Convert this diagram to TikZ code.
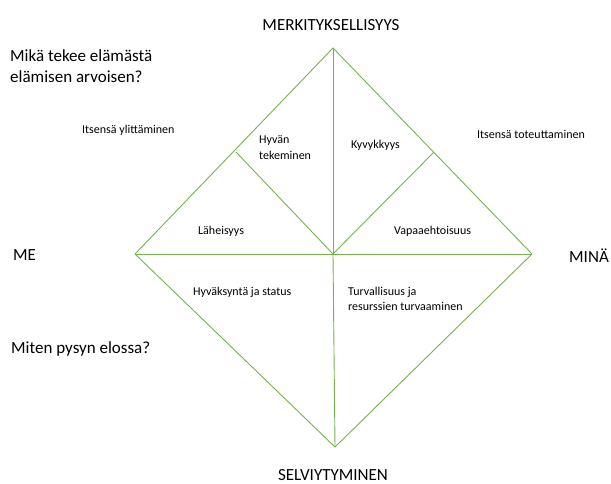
\documentclass[tikz,border=0pt]{standalone}
\usepackage{fontspec}
\setmainfont{Carlito}
\definecolor{lg}{RGB}{118,178,78}
\begin{document}
\begin{tikzpicture}[x=1pt,y=-1pt,
  edge/.style={draw=lg,line width=0.9pt},
  big/.style={font=\fontsize{17}{20}\selectfont,inner sep=0pt},
  small/.style={font=\fontsize{12}{15.5}\selectfont,inner sep=0pt,align=left}]
\useasboundingbox (0,0) rectangle (611,484);
\coordinate (T) at (333,48);
\coordinate (L) at (135,254);
\coordinate (R) at (532,254);
\coordinate (B) at (335,447);
\coordinate (C) at (333,254);
\coordinate (ML) at (236,152);
\coordinate (MR) at (434,152);
\draw[edge] (L) -- (T) -- (R);
\draw[edge] (L) -- (R);
\draw[edge] (T) -- (C);
\draw[edge] (ML) -- (C) -- (MR);
\draw[edge] (L) -- (B) -- (R);
\draw[edge] (C) -- (B);
\node[big,anchor=base] (top) at (331,31) {MERKITYKSELLISYYS};
\node[big,anchor=base] (bot) at (333,480) {SELVIYTYMINEN};
\node[big,anchor=base west] (me) at (13,260) {ME};
\node[big,anchor=base west] (mina) at (569,262) {MINÄ};
\node[big,anchor=base west] (q1a) at (10,62) {Mikä tekee elämästä};
\node[big,anchor=base west] (q1b) at (10,83) {elämisen arvoisen?};
\node[big,anchor=base west] (q2) at (11,353) {Miten pysyn elossa?};
\node[small,anchor=base west] (ys) at (82,134) {Itsensä ylittäminen};
\node[small,anchor=base west] (tt) at (477,139) {Itsensä toteuttaminen};
\node[small,anchor=base west] (hv1) at (259,144) {Hyvän};
\node[small,anchor=base west] (hv2) at (259,160) {tekeminen};
\node[small,anchor=base west] (ky) at (351,149) {Kyvykkyys};
\node[small,anchor=base west] (la) at (198,235) {Läheisyys};
\node[small,anchor=base west] (va) at (394,235) {Vapaaehtoisuus};
\node[small,anchor=base west] (hs) at (193,295) {Hyväksyntä ja status};
\node[small,anchor=base west] (tu1) at (348,295) {Turvallisuus ja};
\node[small,anchor=base west] (tu2) at (348,310) {resurssien turvaaminen};
\end{tikzpicture}
\end{document}
